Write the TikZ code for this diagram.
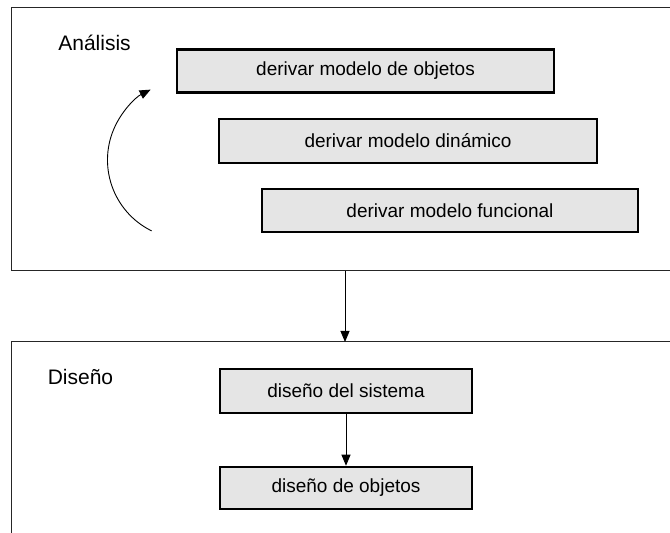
\documentclass[tikz,border=0pt]{standalone}
\usepackage{fontspec}
\setmainfont{Liberation Sans}
\usetikzlibrary{arrows.meta,calc}
\begin{document}
\begin{tikzpicture}[x=1pt,y=1pt,
  framebox/.style={draw=black!85, line width=1pt},
  actbox/.style={draw=black, line width=2.5pt, fill=black!10, inner sep=0pt,
     font=\fontsize{19}{22}\selectfont, anchor=center},
  phaselabel/.style={font=\fontsize{21}{25}\selectfont, inner sep=0pt},
  flow/.style={line width=0.9pt, -{Triangle[length=11pt,width=9pt]}}]
\useasboundingbox (0,0) rectangle (670,533);
\clip (0,0) rectangle (670,533);
\fill[white] (0,0) rectangle (670,533);
% frames
\draw[framebox] (672,525) -- (11,525) -- (11,262) -- (672,262);
\draw[framebox] (672,191) -- (11,191) -- (11,-2);
% labels
\node[phaselabel] (analisis) at (94.5,490) {Análisis};
\node[phaselabel] (diseno) at (80.5,156) {Diseño};
% analysis boxes
\node[actbox, minimum width=377pt, minimum height=43pt] (b1) at (365.5,462) {derivar modelo de objetos};
\node[actbox, minimum width=378pt, minimum height=44pt] (b2) at (408,392) {derivar modelo dinámico};
\node[actbox, minimum width=376pt, minimum height=43pt] (b3) at (450,322.5) {derivar modelo funcional};
% design boxes
\node[actbox, minimum width=252pt, minimum height=44pt] (b4) at (346,142) {diseño del sistema};
\node[actbox, minimum width=252pt, minimum height=42pt] (b5) at (346,45) {diseño de objetos};
% cycle arc
\coordinate (arcS) at ($(186.5,373)+(243.8:79)$);
\draw[line width=0.9pt, -{Triangle[length=11pt,width=9pt]}] (arcS) arc[start angle=243.8, end angle=117, radius=79];
% connectors
\coordinate (topb) at (345,262);
\coordinate (lowt) at (345,191);
\draw[flow] (topb) -- (lowt);
\draw[flow] (b4.south) -- (b5.north);
\end{tikzpicture}
\end{document}
